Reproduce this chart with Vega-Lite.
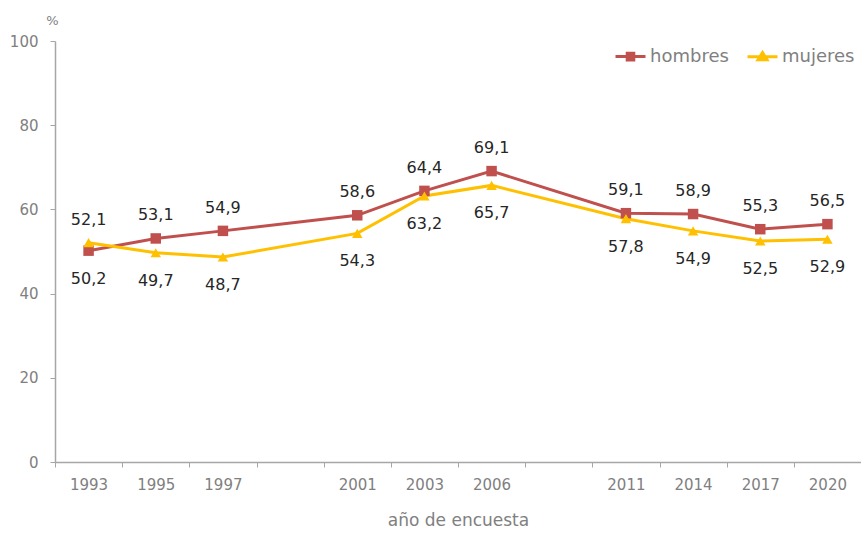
{
  "$schema": "https://vega.github.io/schema/vega-lite/v6.json",
  "width": 806,
  "height": 421,
  "autosize": {"type": "none"},
  "padding": {"left": 55, "top": 41, "right": 0, "bottom": 74},
  "background": "white",
  "config": {
    "view": {"stroke": null},
    "font": "DejaVu Sans",
    "locale": {"number": {"decimal": ",", "thousands": ".", "grouping": [3], "currency": ["", "€"]}}
  },
  "data": {
    "values": [
      {"anio": "1993", "sexo": "hombres", "valor": 50.2},
      {"anio": "1995", "sexo": "hombres", "valor": 53.1},
      {"anio": "1997", "sexo": "hombres", "valor": 54.9},
      {"anio": "2001", "sexo": "hombres", "valor": 58.6},
      {"anio": "2003", "sexo": "hombres", "valor": 64.4},
      {"anio": "2006", "sexo": "hombres", "valor": 69.1},
      {"anio": "2011", "sexo": "hombres", "valor": 59.1},
      {"anio": "2014", "sexo": "hombres", "valor": 58.9},
      {"anio": "2017", "sexo": "hombres", "valor": 55.3},
      {"anio": "2020", "sexo": "hombres", "valor": 56.5},
      {"anio": "1993", "sexo": "mujeres", "valor": 52.1},
      {"anio": "1995", "sexo": "mujeres", "valor": 49.7},
      {"anio": "1997", "sexo": "mujeres", "valor": 48.7},
      {"anio": "2001", "sexo": "mujeres", "valor": 54.3},
      {"anio": "2003", "sexo": "mujeres", "valor": 63.2},
      {"anio": "2006", "sexo": "mujeres", "valor": 65.7},
      {"anio": "2011", "sexo": "mujeres", "valor": 57.8},
      {"anio": "2014", "sexo": "mujeres", "valor": 54.9},
      {"anio": "2017", "sexo": "mujeres", "valor": 52.5},
      {"anio": "2020", "sexo": "mujeres", "valor": 52.9}
    ]
  },
  "encoding": {
    "x": {
      "field": "anio",
      "type": "ordinal",
      "scale": {
        "type": "band",
        "domain": ["1993", "1995", "1997", "g1", "2001", "2003", "2006", "g2", "2011", "2014", "2017", "2020"],
        "paddingInner": 0,
        "paddingOuter": 0
      },
      "axis": {
        "title": "año de encuesta",
        "titleFontSize": 17,
        "titleFontWeight": "normal",
        "titleColor": "#808080",
        "titlePadding": 20,
        "labelAngle": 0,
        "labelFontSize": 15,
        "labelColor": "#808080",
        "labelPadding": 10,
        "labelExpr": "datum.label[0] == 'g' ? '' : datum.label",
        "tickBand": "extent",
        "tickSize": 5,
        "tickColor": "#a6a6a6",
        "domainColor": "#a6a6a6",
        "domainWidth": 1.5,
        "grid": false
      }
    },
    "y": {
      "field": "valor",
      "type": "quantitative",
      "scale": {"domain": [0, 100], "nice": false},
      "axis": {
        "title": "%",
        "titleAngle": 0,
        "titleX": -3,
        "titleY": -21,
        "titleAlign": "center",
        "titleBaseline": "middle",
        "titleFontSize": 13,
        "titleFontWeight": "normal",
        "titleColor": "#808080",
        "values": [0, 20, 40, 60, 80, 100],
        "grid": false,
        "domainColor": "#a6a6a6",
        "domainWidth": 1.5,
        "tickColor": "#a6a6a6",
        "tickSize": 5,
        "labelFontSize": 15,
        "labelColor": "#808080",
        "labelPadding": 12
      }
    },
    "color": {
      "field": "sexo",
      "type": "nominal",
      "scale": {"domain": ["hombres", "mujeres"], "range": ["#C0504D", "#FFC000"]},
      "legend": {
        "orient": "none",
        "legendX": 559,
        "legendY": -1,
        "direction": "horizontal",
        "title": null,
        "symbolSize": 900,
        "labelFontSize": 18,
        "labelColor": "#808080",
        "labelOffset": 3,
        "columnPadding": 12,
        "padding": 0,
        "encode": {
          "symbols": {
            "update": {
              "shape": {"signal": "datum.value == 'hombres' ? 'M-1,0L1,0M-0.22,-0.22L0.22,-0.22L0.22,0.22L-0.22,0.22Z' : 'M-1,0L1,0M-0.3,0.2L0,-0.28L0.3,0.2Z'"},
              "fill": {"scale": "color", "field": "value"},
              "stroke": {"scale": "color", "field": "value"},
              "strokeWidth": {"value": 3},
              "opacity": {"value": 1}
            }
          }
        }
      }
    }
  },
  "layer": [
    {"mark": {"type": "line", "strokeWidth": 3}},
    {
      "transform": [{"filter": "datum.sexo == 'hombres'"}],
      "mark": {"type": "point", "filled": true, "opacity": 1, "size": 110, "shape": "square"}
    },
    {
      "transform": [{"filter": "datum.sexo == 'mujeres'"}],
      "mark": {"type": "point", "filled": true, "opacity": 1, "size": 110, "shape": "triangle-up"}
    },
    {
      "transform": [
        {"joinaggregate": [{"op": "max", "field": "valor", "as": "maxv"}], "groupby": ["anio"]},
        {"filter": "datum.valor == datum.maxv"}
      ],
      "mark": {"type": "text", "dy": -23, "fontSize": 16, "baseline": "middle"},
      "encoding": {
        "text": {"field": "valor", "type": "quantitative", "format": ".1f"},
        "color": {"value": "#262626"}
      }
    },
    {
      "transform": [
        {"joinaggregate": [{"op": "max", "field": "valor", "as": "maxv"}], "groupby": ["anio"]},
        {"filter": "datum.valor < datum.maxv"}
      ],
      "mark": {"type": "text", "dy": 28, "fontSize": 16, "baseline": "middle"},
      "encoding": {
        "text": {"field": "valor", "type": "quantitative", "format": ".1f"},
        "color": {"value": "#262626"}
      }
    }
  ]
}
